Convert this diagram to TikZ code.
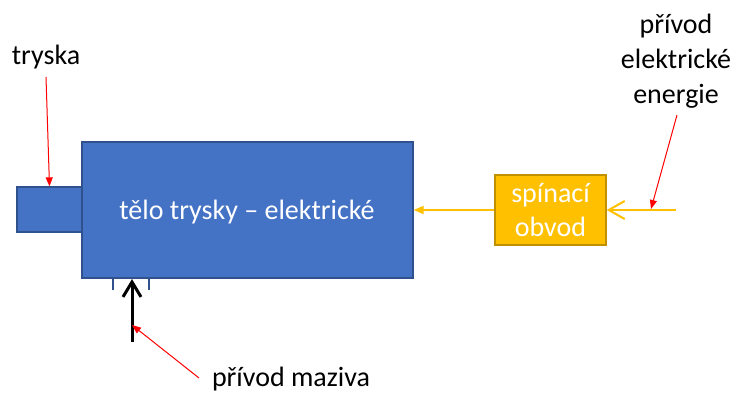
\documentclass[tikz,border=0pt]{standalone}
\usepackage{fontspec}
\setmainfont{Carlito}
\usetikzlibrary{arrows.meta}
\definecolor{boxblue}{HTML}{4472C4}
\definecolor{boxblueedge}{HTML}{2F528F}
\definecolor{boxyellow}{HTML}{FFC000}
\definecolor{boxyellowedge}{HTML}{BF9000}
\definecolor{linkred}{HTML}{FF0000}
\begin{document}
\begin{tikzpicture}[x=1pt,y=-1pt,
  bluebox/.style={draw=boxblueedge,fill=boxblue,line width=1.3pt,inner sep=0pt},
  yellowbox/.style={draw=boxyellowedge,fill=boxyellow,line width=1.3pt,inner sep=0pt},
  lbl/.style={font=\fontsize{28}{35}\selectfont,inner sep=0pt,anchor=base,align=center},
  redarrow/.style={draw=linkred,line width=1pt,-{Triangle[length=9pt,width=7pt]}},
  yellowline/.style={draw=boxyellow,line width=2pt},
  tick/.style={draw=boxblueedge,line width=1.3pt}
]
\useasboundingbox (0,0) rectangle (736,392);
% shapes
\node[bluebox,minimum width=65pt,minimum height=45pt] (nozzle) at (49.5,209.5) {};
\node[bluebox,minimum width=331pt,minimum height=136pt] (body) at (247.5,210) {};
\node[lbl,text=white] (bodytext) at (247,219) {tělo trysky – elektrické};
\node[yellowbox,minimum width=111pt,minimum height=70pt] (switch) at (550.5,210) {};
\node[lbl,text=white,font=\fontsize{28}{34}\selectfont] (switchtext) at (550.5,236) {spínací\\obvod};
% lubricant inlet ticks
\coordinate (tickA) at (113,278);
\coordinate (tickAend) at (113,290);
\coordinate (tickB) at (149,278);
\coordinate (tickBend) at (149,290);
\draw[tick] (tickA) -- (tickAend);
\draw[tick] (tickB) -- (tickBend);
% labels
\node[lbl] (tryska) at (46,64) {tryska};
\node[lbl] (energy) at (676,103) {přívod\\elektrické\\energie};
\node[lbl] (maziva) at (291,386) {přívod maziva};
% connectors
\coordinate (oilstart) at (132,342);
\coordinate (oilend) at (132,279);
\draw[line width=3pt,-{Straight Barb[length=15pt,width=18pt,line join=miter]}] (oilstart) -- (oilend);
\draw[yellowline,-{Triangle[length=10pt,width=8pt]}] (switch.west) -- (body.east);
\coordinate (powerin) at (676,210);
\draw[yellowline,-{Straight Barb[length=16pt,width=18pt]}] (powerin) -- (switch.east);
\coordinate (tryskafrom) at (46,77);
\draw[redarrow] (tryskafrom) -- (nozzle.north);
\coordinate (energyfrom) at (677,115);
\coordinate (energyto) at (651,209);
\draw[redarrow] (energyfrom) -- (energyto);
\coordinate (mazivafrom) at (199,378);
\coordinate (mazivato) at (132,325);
\draw[redarrow] (mazivafrom) -- (mazivato);
\end{tikzpicture}
\end{document}
